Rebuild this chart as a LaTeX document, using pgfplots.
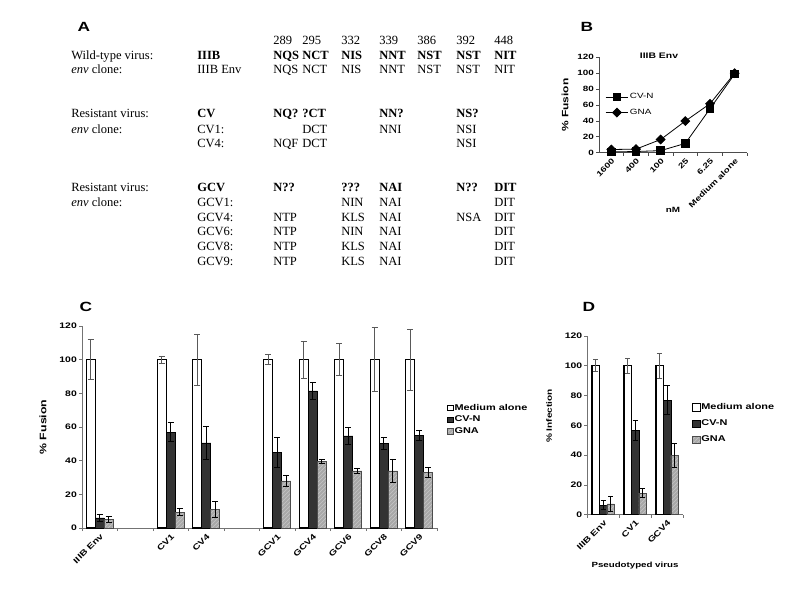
\documentclass[border=0pt]{standalone}
\usepackage{fontspec}
\setmainfont{Liberation Serif}
\newfontfamily\arial[FakeStretch=1.3]{Liberation Sans}
\usepackage{pgfplots}
\pgfplotsset{compat=1.18}
\usetikzlibrary{patterns}

\definecolor{axisgray}{gray}{0.45}
\definecolor{cvn}{gray}{0.2}
\definecolor{gna}{gray}{0.66}
\definecolor{errgray}{gray}{0.35}

\newcommand{\tk}{\arial\bfseries\fontsize{6}{7}\selectfont}
\newcommand{\tx}[3]{\node[anchor=base west,inner sep=0pt] at (#1,#2) {#3};}
% seven sequon columns at 289 295 332 339 386 392 448
\newcommand{\seq}[8]{\tx{273}{#1}{#2}\tx{302}{#1}{#3}\tx{341}{#1}{#4}\tx{379}{#1}{#5}\tx{417}{#1}{#6}\tx{456}{#1}{#7}\tx{494}{#1}{#8}}

\pgfplotsset{
  panel/.style={
    scale only axis,
    axis lines=left,
    axis line style={-, axisgray, line width=0.7pt},
    tick style={axisgray, line width=0.5pt},
    tick align=outside,
    major tick length=2.2pt,
    minor tick length=2.4pt,
    major x tick style={draw=none},
    enlargelimits=false,
    ymin=0, ymax=120, ytick={0,20,...,120},
    /pgf/number format/assume math mode=true,
    tick label style={font=\tk},
    xticklabel style={rotate=45, anchor=north east, inner sep=1pt},
    yticklabel style={inner sep=1.5pt},
    clip=false,
  },
}

\begin{document}
\begin{tikzpicture}[x=0.75pt,y=-0.75pt]
\useasboundingbox (0,0) rectangle (800,600);
\coordinate (oB) at (599,152.7);
\coordinate (oC) at (82,528);
\coordinate (oD) at (587.3,514.7);

% ---------- panel labels
\begin{scope}[every node/.style={font=\arial\bfseries\fontsize{10}{12}\selectfont, inner sep=0pt}]
\node at (84,27) {A};
\node at (587,27) {B};
\node at (86,307) {C};
\node at (589,307) {D};
\end{scope}

% ---------- panel A: sequon table
\begin{scope}[font=\fontsize{9.4}{11}\selectfont]
\seq{44}{289}{295}{332}{339}{386}{392}{448}
\tx{71}{59}{Wild-type virus:}\tx{197}{59}{\textbf{IIIB}}
\seq{59}{\textbf{NQS}}{\textbf{NCT}}{\textbf{NIS}}{\textbf{NNT}}{\textbf{NST}}{\textbf{NST}}{\textbf{NIT}}
\tx{71}{73}{\textit{env} clone:}\tx{197}{73}{IIIB Env}
\seq{73}{NQS}{NCT}{NIS}{NNT}{NST}{NST}{NIT}

\tx{71}{117}{Resistant virus:}\tx{197}{117}{\textbf{CV}}
\seq{117}{\textbf{NQ?}}{\textbf{?CT}}{}{\textbf{NN?}}{}{\textbf{NS?}}{}
\tx{71}{133}{\textit{env} clone:}\tx{197}{133}{CV1:}
\seq{133}{}{DCT}{}{NNI}{}{NSI}{}
\tx{197}{147}{CV4:}
\seq{147}{NQF}{DCT}{}{}{}{NSI}{}

\tx{71}{191}{Resistant virus:}\tx{197}{191}{\textbf{GCV}}
\seq{191}{\textbf{N??}}{}{\textbf{???}}{\textbf{NAI}}{}{\textbf{N??}}{\textbf{DIT}}
\tx{71}{206}{\textit{env} clone:}\tx{197}{206}{GCV1:}
\seq{206}{}{}{NIN}{NAI}{}{}{DIT}
\tx{197}{221}{GCV4:}
\seq{221}{NTP}{}{KLS}{NAI}{}{NSA}{DIT}
\tx{197}{235}{GCV6:}
\seq{235}{NTP}{}{NIN}{NAI}{}{}{DIT}
\tx{197}{250}{GCV8:}
\seq{250}{NTP}{}{KLS}{NAI}{}{}{DIT}
\tx{197}{265}{GCV9:}
\seq{265}{NTP}{}{KLS}{NAI}{}{}{DIT}
\end{scope}

% ---------- panel B: dose response
\begin{axis}[panel, at={(oB)}, anchor=south west,
  width=111pt, height=71.55pt,
  axis line style={-, black!70, line width=0.6pt},
  tick style={black!70, line width=0.5pt},
  tick label style={font=\arial\bfseries\fontsize{5.7}{6}\selectfont},
  xmin=-0.5, xmax=5.5,
  xtick={0,...,5}, xticklabels={1600,400,100,25,6.25,Medium alone},
  minor xtick={0.5,1.5,...,5.5},
  ylabel={\% Fusion},
  ylabel style={font=\arial\bfseries\fontsize{6.9}{8}\selectfont, at={(rel axis cs:0,0.5)}, anchor=center, yshift=25.5pt},
  legend style={at={(rel axis cs:0.04,0.64)}, anchor=north west, draw=none, fill=none,
    font=\arial\fontsize{5.7}{6}\selectfont, row sep=4.3pt, inner sep=0pt, nodes={inner sep=1pt}},
  legend cell align=left,
  legend image code/.code={\draw[#1] (0pt,0pt) -- (8.5pt,0pt) plot coordinates {(8.5pt,0pt)} -- (17pt,0pt);},
]
\addplot[black, line width=0.6pt, mark=square*, mark size=2.9pt] coordinates {
  (0,1) (1,1.5) (2,2.6) (3,11.7) (4,55.3) (5,99)};
\addplot[black, line width=0.6pt, mark=diamond*, mark size=3.3pt, mark options={xscale=1.33}] coordinates {
  (0,4) (1,4.5) (2,16.6) (3,39.8) (4,61.6) (5,100)};
\legend{CV-N,GNA}
\end{axis}
\node[font=\arial\bfseries\fontsize{6}{7}\selectfont] at (659,56) {IIIB Env};
\node[font=\arial\bfseries\fontsize{5.7}{6}\selectfont] at (673,210) {nM};

% ---------- panel C: fusion
\begin{axis}[panel, at={(oC)}, anchor=south west,
  width=266.25pt, height=151.5pt,
  xmin=-0.5, xmax=9.5, ybar=0pt, bar width=6.75pt,
  xtick={0,...,9}, xticklabels={IIIB Env,{},CV1,CV4,{},GCV1,GCV4,GCV6,GCV8,GCV9},
  minor xtick={-0.5,0.5,...,9.5},
  ylabel={\% Fusion},
  ylabel style={font=\arial\bfseries\fontsize{7.1}{8}\selectfont, at={(rel axis cs:0,0.5)}, anchor=center, yshift=29.25pt},
  legend style={at={(rel axis cs:1.028,0.62)}, anchor=north west, draw=none, fill=none,
    font=\arial\bfseries\fontsize{6.3}{7}\selectfont, row sep=1.2pt, inner sep=0pt, nodes={inner sep=0.8pt}},
  legend cell align=left,
  legend image code/.code={\draw[line width=0.5pt,#1] (0pt,-2pt) rectangle (4.2pt,2.2pt);},
]
\addplot[draw=black, line width=1pt, fill=white,
  error bars/.cd, y dir=both, y explicit,
  error bar style={errgray, line width=0.6pt},
  error mark options={rotate=90, mark size=2.3pt, errgray, line width=0.6pt}]
  coordinates {(0,100) +- (0,12) (2,100) +- (0,2) (3,100) +- (0,15) (5,100) +- (0,3)
    (6,100) +- (0,11) (7,100) +- (0,9.5) (8,100) +- (0,19) (9,100) +- (0,18)};
\addplot[draw=black, line width=0.4pt, fill=cvn,
  error bars/.cd, y dir=both, y explicit,
  error bar style={black, line width=0.6pt},
  error mark options={rotate=90, mark size=2.3pt, black, line width=0.6pt}]
  coordinates {(0,6) +- (0,2) (2,57) +- (0,5.5) (3,50.5) +- (0,10) (5,45) +- (0,8.8)
    (6,81.5) +- (0,5) (7,54.7) +- (0,5) (8,50.3) +- (0,3.4) (9,55) +- (0,3)};
\addplot[draw=black!70, line width=0.4pt, fill=gna, postaction={pattern=north east lines, pattern color=gray!45},
  error bars/.cd, y dir=both, y explicit,
  error bar style={black, line width=0.6pt},
  error mark options={rotate=90, mark size=2.3pt, black, line width=0.6pt}]
  coordinates {(0,5) +- (0,1.6) (2,9.5) +- (0,2.2) (3,11) +- (0,4.6) (5,28) +- (0,3)
    (6,39.4) +- (0,1.2) (7,34) +- (0,1.5) (8,34) +- (0,7) (9,33) +- (0,2.8)};
\legend{Medium alone,CV-N,GNA}
\end{axis}

% ---------- panel D: infection
\begin{axis}[panel, at={(oD)}, anchor=south west,
  width=71.8pt, height=134pt,
  xmin=-0.5, xmax=2.5, ybar=0pt, bar width=5.6pt,
  xtick={0,1,2}, xticklabels={IIIB Env,CV1,GCV4},
  minor xtick={-0.5,0.5,...,2.5},
  ylabel={\% Infection},
  ylabel style={font=\arial\bfseries\fontsize{5.8}{7}\selectfont, at={(rel axis cs:0,0.552)}, anchor=center, yshift=28.7pt},
  legend style={at={(rel axis cs:1.094,0.63)}, anchor=north west, draw=none, fill=none,
    font=\arial\bfseries\fontsize{6.3}{7}\selectfont, row sep=4.6pt, inner sep=0pt, nodes={inner sep=0.8pt}},
  legend cell align=left,
  legend image code/.code={\draw[line width=0.5pt,#1] (0pt,-2.7pt) rectangle (5.5pt,2.8pt);},
]
\addplot[draw=black, line width=1pt, fill=white,
  error bars/.cd, y dir=both, y explicit,
  error bar style={errgray, line width=0.6pt},
  error mark options={rotate=90, mark size=2pt, errgray, line width=0.6pt}]
  coordinates {(0,100) +- (0,4) (1,100) +- (0,5) (2,100) +- (0,8.3)};
\addplot[draw=black, line width=0.4pt, fill=cvn,
  error bars/.cd, y dir=both, y explicit,
  error bar style={black, line width=0.6pt},
  error mark options={rotate=90, mark size=2pt, black, line width=0.6pt}]
  coordinates {(0,6.3) +- (0,3) (1,56.6) +- (0,6.7) (2,77) +- (0,9.6)};
\addplot[draw=black!70, line width=0.4pt, fill=gna, postaction={pattern=north east lines, pattern color=gray!45},
  error bars/.cd, y dir=both, y explicit,
  error bar style={black, line width=0.6pt},
  error mark options={rotate=90, mark size=2pt, black, line width=0.6pt}]
  coordinates {(0,7.2) +- (0,4.9) (1,14.5) +- (0,3.2) (2,39.8) +- (0,8)};
\legend{Medium alone,CV-N,GNA}
\end{axis}
\node[font=\arial\bfseries\fontsize{5.6}{6}\selectfont] at (635,566) {Pseudotyped virus};

\end{tikzpicture}
\end{document}
